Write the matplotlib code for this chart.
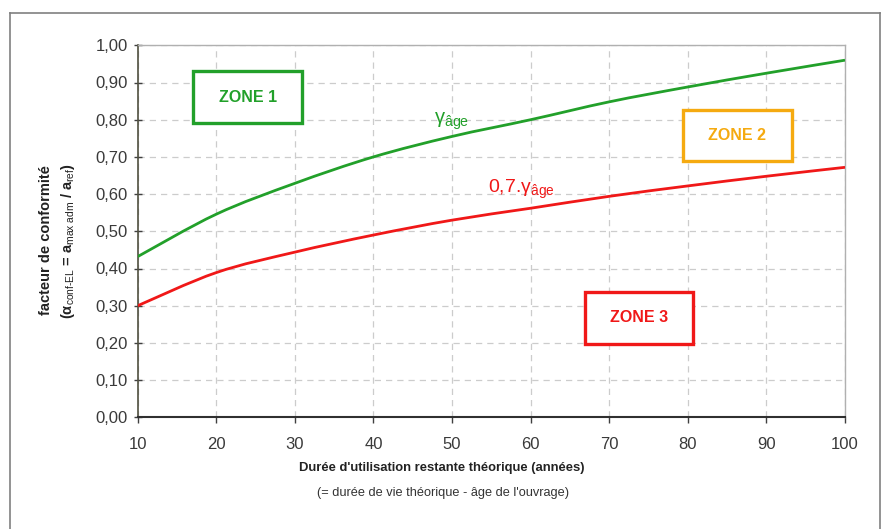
import matplotlib
matplotlib.use("Agg")
import matplotlib.pyplot as plt
from matplotlib.patches import Rectangle, PathPatch
from matplotlib.path import Path
from matplotlib.lines import Line2D
from matplotlib.ticker import FuncFormatter

plt.rcParams['font.family'] = ['Liberation Sans', 'DejaVu Sans']
plt.rcParams['mathtext.fontset'] = 'custom'
plt.rcParams['mathtext.rm'] = 'Liberation Sans'
plt.rcParams['mathtext.it'] = 'Liberation Sans'
plt.rcParams['mathtext.bf'] = 'Liberation Sans:bold'
plt.rcParams['mathtext.default'] = 'regular'

# Data
duree = [10, 20, 30, 40, 50, 60, 70, 80, 90, 100]
gamma_age = [0.432, 0.546, 0.629, 0.700, 0.755, 0.800, 0.848, 0.888, 0.925, 0.960]
gamma_07 = [0.300, 0.389, 0.444, 0.490, 0.530, 0.562, 0.594, 0.622, 0.648, 0.672]
x_ticks = [10, 20, 30, 40, 50, 60, 70, 80, 90, 100]
y_ticks = [0.0, 0.1, 0.2, 0.3, 0.4, 0.5, 0.6, 0.7, 0.8, 0.9, 1.0]

GREEN = '#22a02a'
RED = '#f01818'
ORANGE = '#f5aa10'

fig = plt.figure(figsize=(8.83, 5.29), dpi=100)
ax = fig.add_axes([137.7 / 883, 1 - 417.3 / 529, (845 - 137.7) / 883, (417.3 - 45.3) / 529])


def smooth_path(xs, ys):
    """Excel-style smoothed line (Catmull-Rom as cubic Bezier) through the data points."""
    n = len(xs)
    verts = [(xs[0], ys[0])]
    codes = [Path.MOVETO]
    for i in range(n - 1):
        x0, y0 = (xs[i - 1], ys[i - 1]) if i > 0 else (xs[i], ys[i])
        x1, y1 = xs[i], ys[i]
        x2, y2 = xs[i + 1], ys[i + 1]
        x3, y3 = (xs[i + 2], ys[i + 2]) if i + 2 < n else (xs[i + 1], ys[i + 1])
        c1 = (x1 + (x2 - x0) / 6.0, y1 + (y2 - y0) / 6.0)
        c2 = (x2 - (x3 - x1) / 6.0, y2 - (y3 - y1) / 6.0)
        verts += [c1, c2, (x2, y2)]
        codes += [Path.CURVE4, Path.CURVE4, Path.CURVE4]
    return Path(verts, codes)


for ys, col in [(gamma_age, GREEN), (gamma_07, RED)]:
    ax.add_patch(PathPatch(smooth_path(duree, ys), facecolor='none', edgecolor=col,
                           lw=2.0, capstyle='butt', zorder=3))

ax.set_xlim(10, 100)
ax.set_ylim(0, 1)
ax.set_xticks(x_ticks)
ax.set_yticks(y_ticks)
ax.yaxis.set_major_formatter(FuncFormatter(lambda v, p: f"{v:.2f}".replace('.', ',')))
ax.tick_params(axis='y', direction='inout', length=6, width=1, colors='#404040',
               labelsize=12, labelcolor='#3a3a3a', pad=4)
ax.tick_params(axis='x', direction='out', length=4, width=1, colors='#404040',
               labelsize=12, labelcolor='#3a3a3a', pad=10)

ax.grid(True, color='#cccccc', linestyle=(0, (5, 4)), lw=0.9)
ax.set_axisbelow(True)
for s in ['top', 'right']:
    ax.spines[s].set_color('#b0b0b0')
    ax.spines[s].set_linewidth(1.0)
ax.spines['top'].set_linestyle((0, (1, 1)))
ax.spines['left'].set_color('#505040')
ax.spines['bottom'].set_color('#303030')
ax.spines['left'].set_linewidth(1.2)
ax.spines['bottom'].set_linewidth(1.5)


# Zones
def zone(x0, y0, x1, y1, color, label):
    ax.add_patch(Rectangle((x0, y0), x1 - x0, y1 - y0, fill=True, facecolor='white',
                           edgecolor=color, lw=2.4, zorder=4))
    ax.text((x0 + x1) / 2, (y0 + y1) / 2, label, color=color, fontsize=11.5,
            fontweight='bold', ha='center', va='center', zorder=5)


zone(17.1, 0.792, 30.9, 0.930, GREEN, 'ZONE 1')
zone(79.4, 0.690, 93.2, 0.827, ORANGE, 'ZONE 2')
zone(66.9, 0.197, 80.6, 0.337, RED, 'ZONE 3')

ax.text(50.0, 0.795, r'$\gamma_{\mathrm{âge}}$', color=GREEN, fontsize=14.5,
        ha='center', va='center', zorder=5)
ax.text(58.8, 0.612, r'0,7.$\gamma_{\mathrm{âge}}$', color=RED, fontsize=14,
        ha='center', va='center', zorder=5)

# Axis titles
fig.text(442 / 883, 1 - 468 / 529, "Durée d'utilisation restante théorique (années)",
         ha='center', va='center', fontsize=9.4, fontweight='bold', color='#222222')
fig.text(443 / 883, 1 - 493 / 529, "(= durée de vie théorique - âge de l'ouvrage)",
         ha='center', va='center', fontsize=9.2, color='#333333')
fig.text(46 / 883, 1 - 240 / 529, "facteur de conformité", rotation=90,
         ha='center', va='center', fontsize=10.5, fontweight='bold', color='#222222')
fig.text(68 / 883, 1 - 241 / 529,
         r'($\mathbf{\alpha}_{\mathrm{conf\text{-}EL}}$ = a$_{\mathrm{max\ adm}}$ / a$_{\mathrm{ref}}$)',
         rotation=90, ha='center', va='center', fontsize=10.5, fontweight='bold', color='#222222')

# Outer frame
fig.add_artist(Line2D([10 / 883, 10 / 883], [0, 1 - 13 / 529], transform=fig.transFigure,
                      color='#808080', lw=1.2))
fig.add_artist(Line2D([10 / 883, 880 / 883], [1 - 13 / 529, 1 - 13 / 529],
                      transform=fig.transFigure, color='#808080', lw=1.2))
fig.add_artist(Line2D([880 / 883, 880 / 883], [0, 1 - 13 / 529], transform=fig.transFigure,
                      color='#808080', lw=1.2))

fig.savefig('out.png', dpi=100)
